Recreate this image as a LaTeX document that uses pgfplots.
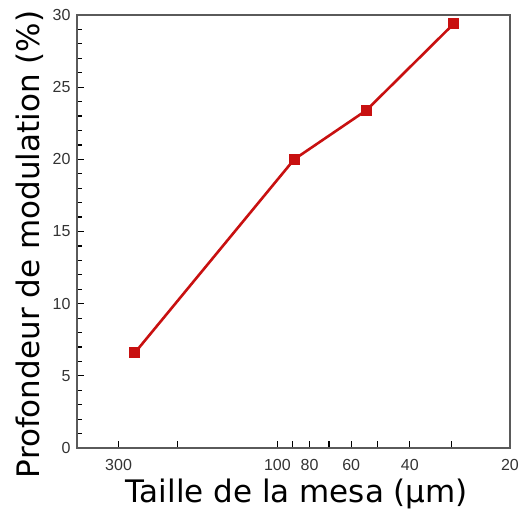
\documentclass[border=0pt]{standalone}
\usepackage{pgfplots}
\pgfplotsset{compat=1.18}
\usepackage{fontspec}
\setmainfont{DejaVu Sans}
\newfontfamily\tickfont{Liberation Sans}
\definecolor{linered}{RGB}{200,16,16}
\definecolor{axgray}{RGB}{90,90,90}
\begin{document}
\begin{tikzpicture}
\path[use as bounding box] (-77pt,-64pt) rectangle (447pt,448pt);
\begin{axis}[
  scale only axis,
  width=433pt, height=433pt,
  xmode=log, x dir=reverse,
  xmin=20, xmax=400,
  ymin=0, ymax=30,
  xtick={300,200,100,90,80,70,60,50,40,30,20},
  xticklabels={300,,100,,80,,60,,40,,20},
  minor xtick={},
  ytick={0,5,10,15,20,25,30},
  minor ytick={1,2,3,4,6,7,8,9,11,12,13,14,16,17,18,19,21,22,23,24,26,27,28,29},
  tick pos=left,
  tick align=inside,
  major tick length=7pt,
  minor tick length=5pt,
  every tick/.style={black, line width=1.2pt},
  axis line style={axgray, line width=1.6pt},
  tick label style={font=\tickfont\fontsize{16}{18}\selectfont, text=black!80},
  xticklabel style={yshift=-8pt},
  yticklabel style={xshift=-3pt},
  xlabel={Taille de la mesa (µm)},
  ylabel={Profondeur de modulation (\%)},
  label style={font=\fontsize{31}{36}\selectfont},
  xlabel style={at={(axis description cs:0.508,-0.107)}, anchor=center},
  ylabel style={at={(axis description cs:-0.108,0.47)}, anchor=center},
  /pgf/number format/assume math mode=true,
]
\addplot[color=linered, line width=2.6pt, mark=square*, mark size=5pt, mark options={solid, fill=linered, line width=0pt}]
  coordinates {(268,6.6) (89,20.0) (54,23.4) (29.5,29.4)};
\end{axis}
\end{tikzpicture}
\end{document}
